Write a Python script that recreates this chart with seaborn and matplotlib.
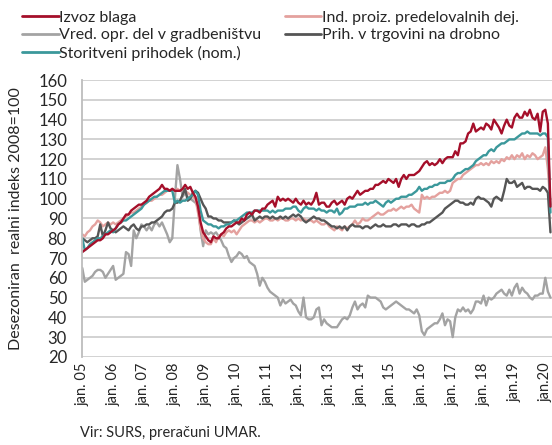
import pandas as pd
import seaborn as sns
import matplotlib.pyplot as plt

# monthly, jan 2005 - mar 2020
izvoz = [73, 74, 75, 76, 77, 78, 79, 79, 80, 82, 82, 83,
         84, 85, 87, 88, 90, 92, 92, 94, 95, 96, 97, 97,
         98, 99, 101, 102, 103, 104, 105, 107, 105, 105, 104, 105,
         104, 104, 104, 105, 107, 105, 106, 103, 101, 96, 88, 83,
         81, 79, 78, 81, 80, 80, 82, 83, 85, 86, 86, 87,
         88, 88, 90, 89, 92, 93, 92, 94, 94, 93, 95, 95,
         97, 98, 99, 96, 101, 99, 100, 99, 100, 99, 98, 100,
         98, 97, 99, 97, 98, 97, 99, 103, 97, 98, 98, 96,
         96, 98, 99, 97, 98, 99, 97, 100, 101, 100, 102, 104,
         102, 103, 104, 104, 105, 105, 107, 107, 108, 109, 108, 110,
         109, 108, 110, 106, 110, 112, 110, 112, 112, 112, 113, 114,
         116, 118, 119, 117, 118, 117, 118, 120, 118, 120, 121, 121,
         121, 124, 122, 128, 128, 129, 133, 134, 138, 134, 135, 136,
         135, 138, 137, 135, 140, 138, 136, 133, 137, 140, 137, 136,
         141, 143, 141, 141, 144, 142, 145, 141, 140, 143, 134, 144,
         145, 138, 96]

ind_proiz = [82, 81, 83, 84, 86, 87, 89, 88, 86, 87, 88, 87,
             88, 87, 88, 89, 90, 91, 92, 93, 93, 94, 95, 96,
             97, 98, 99, 99, 100, 101, 102, 102, 103, 104, 104, 105,
             104, 105, 104, 105, 104, 103, 102, 101, 100, 93, 85, 80,
             78, 77, 77, 80, 78, 81, 82, 81, 83, 84, 83, 84,
             82, 84, 86, 87, 88, 89, 89, 88, 89, 88, 89, 90,
             90, 89, 89, 90, 89, 90, 90, 89, 89, 90, 90, 89,
             90, 89, 90, 89, 89, 89, 88, 89, 88, 87, 87, 88,
             86, 85, 84, 86, 85, 84, 86, 85, 86, 87, 89, 87,
             88, 90, 89, 89, 90, 91, 92, 93, 92, 92, 93, 94,
             94, 95, 94, 95, 96, 95, 96, 96, 97, 95, 94, 93,
             102, 100, 101, 100, 101, 101, 102, 103, 103, 104, 103, 104,
             108, 109, 110, 110, 112, 113, 114, 115, 116, 117, 117, 118,
             117, 118, 117, 119, 118, 119, 118, 120, 119, 121, 120, 122,
             120, 122, 121, 123, 120, 122, 121, 123, 122, 120, 121, 122,
             126, 115, 97]

gradb = [65, 58, 59, 60, 61, 63, 64, 64, 63, 60, 62, 64,
         66, 59, 60, 61, 62, 73, 72, 66, 84, 80, 83, 87,
         86, 84, 86, 84, 87, 88, 86, 88, 85, 82, 78, 80,
         100, 117, 110, 101, 103, 101, 100, 99, 98, 96, 84, 76,
         84, 82, 83, 82, 83, 81, 79, 76, 75, 71, 68, 70,
         71, 73, 72, 70, 71, 68, 67, 66, 62, 56, 60, 58,
         55, 53, 52, 51, 50, 46, 49, 47, 48, 49, 47, 46,
         43, 41, 50, 40, 39, 39, 40, 44, 45, 36, 39, 37,
         36, 35, 35, 35, 37, 39, 40, 39, 41, 45, 48, 44,
         46, 47, 45, 51, 50, 50, 50, 49, 48, 45, 44, 45,
         46, 47, 48, 47, 46, 45, 44, 44, 43, 42, 44, 41,
         33, 31, 34, 35, 36, 37, 37, 39, 42, 36, 39, 38,
         30, 40, 44, 43, 45, 43, 44, 42, 44, 48, 48, 47,
         51, 46, 50, 49, 50, 52, 53, 54, 52, 51, 54, 51,
         55, 57, 52, 55, 53, 52, 50, 49, 51, 51, 52, 52,
         60, 53, 50]

trgovina = [80, 79, 78, 79, 80, 80, 81, 87, 81, 84, 88, 85,
            84, 83, 84, 85, 86, 85, 84, 86, 87, 85, 84, 86,
            86, 87, 87, 88, 88, 89, 90, 91, 93, 94, 94, 95,
            98, 98, 99, 102, 105, 99, 100, 103, 104, 103, 100, 97,
            95, 91, 91, 90, 90, 89, 89, 88, 88, 88, 88, 89,
            88, 87, 88, 89, 90, 91, 92, 89, 90, 91, 90, 91,
            91, 90, 91, 90, 90, 91, 90, 91, 90, 91, 92, 91,
            92, 91, 89, 88, 89, 90, 91, 90, 90, 89, 89, 88,
            87, 86, 86, 85, 86, 85, 86, 84, 86, 87, 86, 86,
            86, 85, 86, 86, 85, 86, 87, 86, 86, 87, 86, 86,
            86, 87, 87, 86, 87, 87, 87, 86, 87, 87, 86, 86,
            87, 87, 88, 88, 89, 90, 91, 92, 93, 95, 96, 97,
            98, 99, 99, 98, 98, 97, 97, 98, 97, 100, 101, 100,
            100, 99, 98, 96, 100, 101, 100, 99, 104, 110, 108, 108,
            109, 106, 107, 108, 105, 106, 106, 105, 105, 105, 104, 106,
            105, 103, 83]

storitve = [80, 74, 75, 77, 78, 79, 80, 80, 81, 82, 83, 84,
            83, 85, 87, 88, 89, 89, 90, 91, 92, 93, 94, 95,
            97, 98, 99, 100, 101, 101, 102, 103, 104, 104, 104, 104,
            98, 99, 98, 99, 99, 100, 101, 102, 104, 102, 94, 89,
            88, 87, 87, 86, 86, 85, 86, 86, 87, 87, 88, 89,
            89, 90, 91, 92, 93, 93, 93, 94, 94, 94, 94, 94,
            94, 93, 94, 93, 94, 94, 94, 95, 95, 95, 96, 96,
            94, 93, 95, 96, 95, 95, 95, 94, 95, 94, 94, 93,
            94, 94, 93, 95, 92, 93, 95, 95, 96, 96, 96, 97,
            97, 97, 98, 97, 98, 98, 99, 98, 97, 96, 98, 99,
            98, 99, 100, 100, 101, 101, 101, 102, 102, 103, 104, 106,
            104, 105, 105, 106, 106, 107, 107, 108, 108, 108, 109, 109,
            110, 112, 113, 113, 114, 115, 115, 116, 117, 119, 120, 121,
            122, 122, 124, 125, 124, 126, 127, 128, 128, 129, 130, 130,
            130, 131, 132, 133, 133, 134, 133, 133, 133, 133, 132, 133,
            133, 131, 93]

tick_labels = ['jan. 05', 'jan. 06', 'jan. 07', 'jan. 08', 'jan. 09', 'jan. 10',
               'jan. 11', 'jan. 12', 'jan. 13', 'jan. 14', 'jan. 15', 'jan. 16',
               'jan. 17', 'jan. 18', 'jan.19', 'jan.20']

names = {'izvoz': 'Izvoz blaga',
         'ind': 'Ind. proiz. predelovalnih dej.',
         'gradb': 'Vred. opr. del v gradbeništvu',
         'trg': 'Prih. v trgovini na drobno',
         'stor': 'Storitveni prihodek (nom.)'}
colors = {names['izvoz']: '#a50f2a',
          names['ind']: '#e4a19e',
          names['gradb']: '#a3a3a3',
          names['trg']: '#555555',
          names['stor']: '#3b989b'}

n = len(izvoz)
df = pd.DataFrame({'t': list(range(n)),
                   names['izvoz']: izvoz,
                   names['ind']: ind_proiz,
                   names['gradb']: gradb,
                   names['trg']: trgovina,
                   names['stor']: storitve})
long = df.melt(id_vars='t', var_name='serija', value_name='indeks')

sns.set_theme(style="whitegrid")
plt.rcParams['font.family'] = ['Lato', 'DejaVu Sans']

fig = plt.figure(figsize=(5.52, 4.45), dpi=100)
ax = fig.add_axes([0.149, 0.198, 0.851, 0.622])

draw_order = [names['gradb'], names['ind'], names['trg'], names['stor'], names['izvoz']]
sns.lineplot(data=long, x='t', y='indeks', hue='serija', hue_order=draw_order,
             palette=colors, linewidth=1.7, ax=ax, legend=False)

ax.set_xlim(0, n - 0.4)
ax.set_ylim(20, 160)
ax.set_yticks(range(20, 161, 10))
ax.set_xticks(range(0, n, 12))
ax.set_xticklabels(tick_labels, rotation=90, fontsize=10.5)
ax.tick_params(axis='y', labelsize=12, length=0, pad=11)
ax.tick_params(axis='x', length=0, pad=4)
ax.grid(axis='x', visible=False)
ax.grid(axis='y', color='#cfcfcf', linewidth=1.3)
for s in ['top', 'right', 'bottom']:
    ax.spines[s].set_visible(False)
ax.spines['left'].set_color('#bdbdbd')
ax.spines['left'].set_linewidth(1.3)
ax.set_xlabel('')
ax.set_ylabel('Desezoniran  realni indeks 2008=100', fontsize=11.5, labelpad=11)

order = [names['izvoz'], names['gradb'], names['stor'], names['ind'], names['trg']]
handles = [plt.Line2D([], [], color=colors[k], lw=2) for k in order]
fig.legend(handles, order, loc='upper left', bbox_to_anchor=(0.028, 0.99), ncol=2,
           frameon=False, fontsize=11.5, handlelength=2.3, handletextpad=0.05,
           labelspacing=0.2, columnspacing=1.45, borderaxespad=0.2, borderpad=0.2)

fig.text(0.145, 0.018, 'Vir: SURS, preračuni UMAR.', fontsize=10.5)

plt.savefig('out.png', dpi=100)
